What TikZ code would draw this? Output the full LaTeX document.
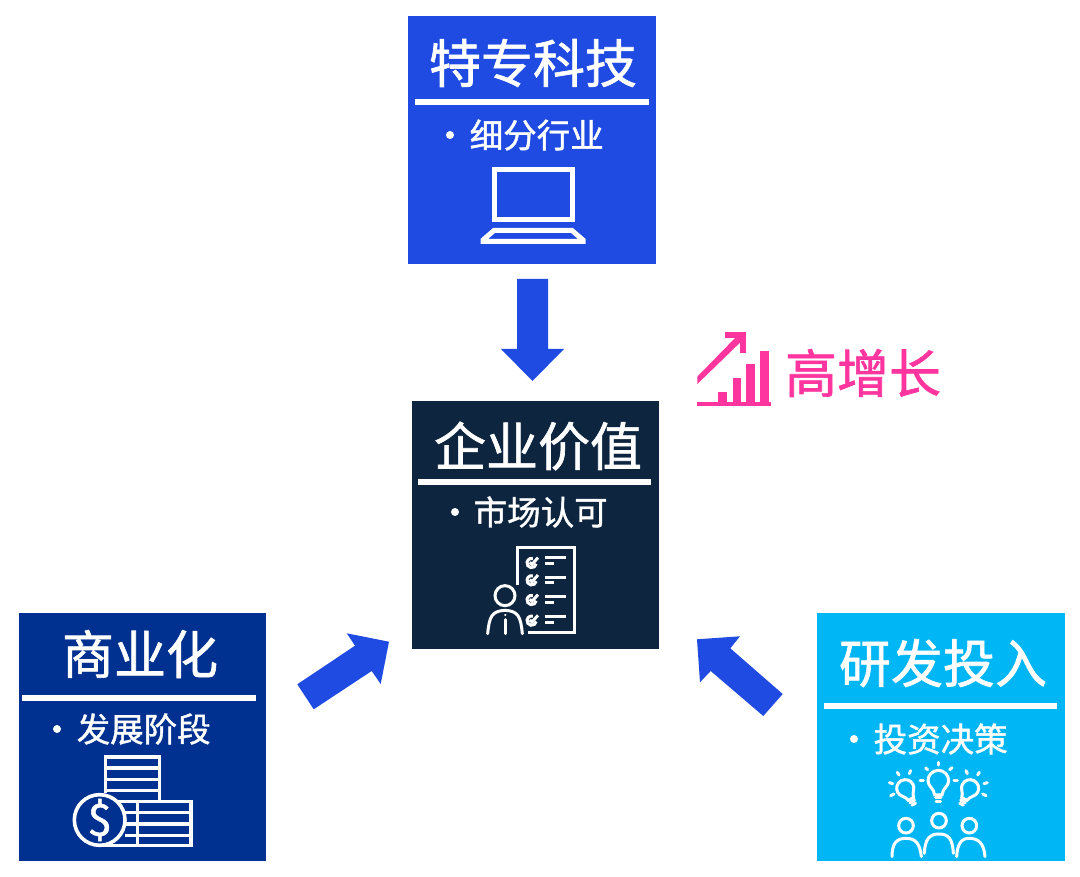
\documentclass[tikz,border=0pt]{standalone}
\usepackage{fontspec}
\setmainfont{Noto Sans CJK SC}[FakeBold=1.2]
\begin{document}
\begin{tikzpicture}[x=1pt,y=-1pt,line join=miter,
 card/.style={inner sep=0pt,minimum width=248pt,minimum height=248pt,anchor=north west},
 head/.style={text=white,font=\fontsize{52}{52}\selectfont,anchor=center,inner sep=0pt},
 sub/.style={text=white,font=\fontsize{33.5}{33.5}\selectfont,anchor=west,inner sep=0pt},
 bul/.style={circle,fill=white,inner sep=0pt,minimum size=8pt},
 rule/.style={white,line width=6pt},
 ic/.style={white,line width=3.6pt},
 ict/.style={white,line width=3pt,line cap=round},
 blockarrow/.style={fill=arrowblue,draw=none}]
\definecolor{arrowblue}{HTML}{1F4BE3}
\definecolor{navy}{HTML}{0D253F}
\definecolor{darkblue}{HTML}{003090}
\definecolor{sky}{HTML}{00B6F5}
\definecolor{hotpink}{HTML}{FF359F}
\useasboundingbox (0,0) rectangle (1080,877);
\fill[white] (0,0) rectangle (1080,877);
% cards
\node[card,fill=arrowblue] (tech) at (408,16) {};
\node[card,fill=navy,minimum width=247.5pt] (value) at (411.5,401) {};
\node[card,fill=darkblue,minimum width=247pt] (biz) at (19,613) {};
\node[card,fill=sky,minimum width=247.5pt] (rd) at (817,613) {};
% top card
\node[head] (techT) at (533,63) {特专科技};
\draw[rule] (415,102) -- (649,102);
\node[bul] (techB) at (450,135) {};
\node[sub] (techS) at (469.5,135) {细分行业};
\draw[white,line width=5pt] (494,170) rectangle (572,220);
\draw[white,line width=5pt] (483,241.5) -- (583,241.5) -- (583,240) -- (572,230.5) -- (494,230.5) -- (483,240) -- cycle;
% centre card
\node[head] (valueT) at (538,446) {企业价值};
\draw[rule] (418,482) -- (651,482);
\node[bul] (valueB) at (455,512) {};
\node[sub] (valueS) at (473.5,512) {市场认可};
\begin{scope}[shift={(470,535)},x=0.3333pt,y=-0.3333pt]
\draw[white,line width=3pt,line cap=butt] (142,150) -- (142,38) -- (314,38) -- (314,294) -- (175,294);
\foreach \yy/\ll in {84/68,136/127,195/185,257/245}{
  \draw[white,line width=3pt] ([shift={(10:14)}]185,\yy) arc[start angle=10,end angle=285,radius=14];
  \draw[white,line width=3pt] (179,\yy-2) -- (186,\yy+4) -- (204,\yy-16);
  \draw[white,line width=3pt] (224,\ll) -- (287,\ll);
  \draw[white,line width=3pt] (224,\ll+17) -- (252,\ll+17);
}
\draw[white,line width=3pt] (105,182) circle[radius=30];
\draw[ict] (53,296) .. controls (58,245) and (65,228) .. (105,226) .. controls (145,228) and (152,245) .. (157,296);
\draw[ict] (106,254) -- (106,296);
\fill[white] (106,240) circle[radius=3.5];
\end{scope}
% left card
\node[head] (bizT) at (140,654) {商业化};
\draw[rule] (22,698) -- (256,698);
\node[bul] (bizB) at (57,729) {};
\node[sub] (bizS) at (76.5,729) {发展阶段};
\begin{scope}[shift={(60,750)},x=0.3333pt,y=-0.3333pt]
\draw[ic] (137,130) -- (137,21) -- (298,21) -- (298,153);
\foreach \yy in {54,88,122}{\draw[ic] (137,\yy) -- (298,\yy);}
\draw[ic] (175,154) -- (393,154) -- (393,286) -- (130,286);
\foreach \yy in {188,222,256}{\draw[ic] (196,\yy) -- (393,\yy);}
\draw[ic] (232,154) -- (232,286);
\draw[ic] (119,210) circle[radius=76];
\node[text=white,font=\fontsize{44}{44}\selectfont,inner sep=0pt] (dollar) at (119,210) {\$};
\end{scope}
% right card
\node[head] (rdT) at (943,663) {研发投入};
\draw[rule] (824,706) -- (1057,706);
\node[bul] (rdB) at (854,739) {};
\node[sub] (rdS) at (873.5,739) {投资决策};
\begin{scope}[shift={(880,755)},x=0.3333pt,y=-0.3333pt]
\begin{scope}[shift={(175,77)}]
 \draw[ict] (-11,43) .. controls (-13,22) and (-31,18) .. (-31,0) arc[start angle=180,end angle=360,radius=31] .. controls (31,18) and (13,22) .. (11,43) -- cycle;
 \draw[ict] (-8,51) -- (8,51);
 \draw[ict] (-7,62) -- (7,62);
\end{scope}
\draw[ict] (175,22) -- (175,30);
\draw[ict] (137,39) -- (143,44);
\draw[ict] (216,38) -- (209,44);
\draw[ict] (120,77) -- (130,77);
\draw[ict] (222,77) -- (232,77);
\begin{scope}[shift={(76,100)},rotate=28]
 \draw[ict] (-9,36) .. controls (-11,20) and (-26,15) .. (-26,0) arc[start angle=180,end angle=360,radius=26] .. controls (26,15) and (11,20) .. (9,36) -- cycle;
 \draw[ict] (-8,45) -- (8,45); \draw[ict] (-6,54) -- (6,54);
\end{scope}
\begin{scope}[shift={(270,100)},rotate=-28]
 \draw[ict] (-9,36) .. controls (-11,20) and (-26,15) .. (-26,0) arc[start angle=180,end angle=360,radius=26] .. controls (26,15) and (11,20) .. (9,36) -- cycle;
 \draw[ict] (-8,45) -- (8,45); \draw[ict] (-6,54) -- (6,54);
\end{scope}
\draw[ict] (52,52) -- (57,60); \draw[ict] (92,47) -- (88,56); \draw[ict] (28,83) -- (38,86); \draw[ict] (32,122) -- (42,117);
\draw[ict] (258,47) -- (262,56); \draw[ict] (298,52) -- (293,60); \draw[ict] (322,83) -- (312,86); \draw[ict] (318,122) -- (308,117);
\foreach \xx/\yy in {78/212,177/197,268/212}{
  \draw[ict] (\xx,\yy) circle[radius=22];
}
\draw[ict] (36,305) .. controls (36,265) and (50,250) .. (78,250) .. controls (106,250) and (120,265) .. (124,305);
\draw[ict] (133,295) .. controls (135,250) and (150,237) .. (177,237) .. controls (204,237) and (218,250) .. (220,295);
\draw[ict] (230,305) .. controls (232,265) and (245,250) .. (268,250) .. controls (295,250) and (312,265) .. (315,305);
\end{scope}
% block arrows
\fill[blockarrow] (517,279) -- (548,279) -- (548,349) -- (564,349) -- (532.5,381) -- (501,349) -- (517,349) -- cycle;
\fill[blockarrow] (297.3,684.3) -- (355,645.7) -- (346.7,633.3) -- (389,641.7) -- (380.7,684) -- (371.7,671) -- (313.7,709.3) -- cycle;
\fill[blockarrow] (782.7,694) -- (730.3,648.3) -- (740,636.3) -- (697,639.3) -- (700,682.3) -- (710.7,671) -- (763.3,716) -- cycle;
% growth mark
\fill[hotpink] (697.3,402.3) rectangle (770.7,405.7);
\fill[hotpink] (718.3,392) rectangle (727.3,403);
\fill[hotpink] (732.7,378.3) rectangle (741.3,403);
\fill[hotpink] (746.3,364.3) rectangle (755,403);
\fill[hotpink] (760,350.7) rectangle (768.7,403);
\fill[hotpink] (697.3,376.7) -- (738,335) -- (742.7,340) -- (697.3,384) -- cycle;
\draw[hotpink,line width=6pt] (725.3,335.3) -- (742.7,335.3) -- (742.7,353.3);
\node[text=hotpink,font=\fontsize{52}{52}\selectfont,inner sep=0pt] (growth) at (863,373) {高增长};
\end{tikzpicture}
\end{document}
